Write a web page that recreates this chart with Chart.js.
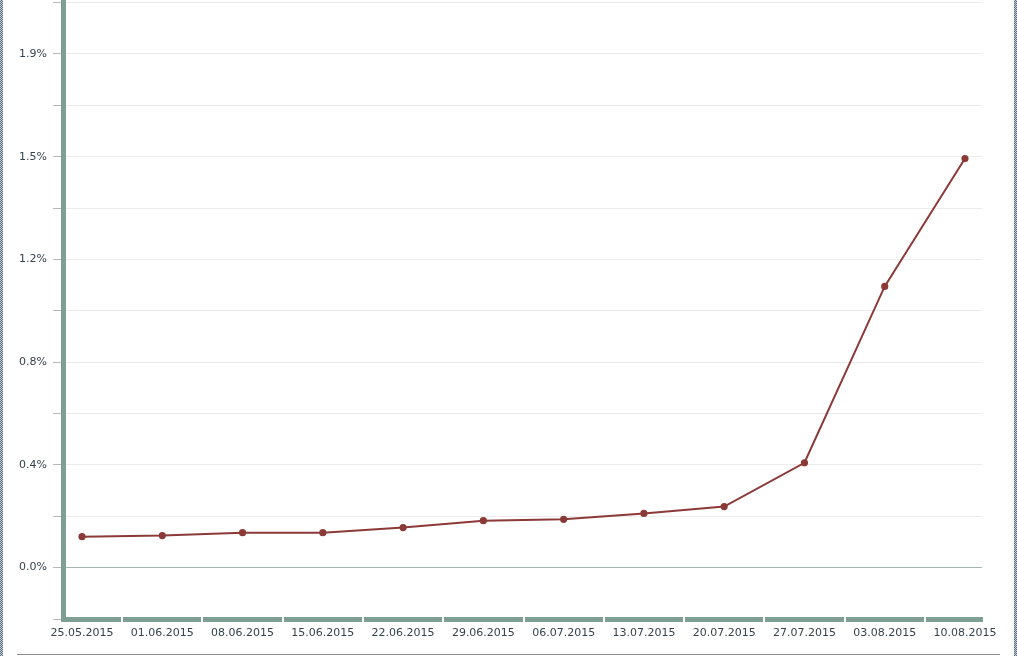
<!DOCTYPE html>
<html>
<head>
<meta charset="utf-8">
<script src="https://cdn.jsdelivr.net/npm/chart.js@4/dist/chart.umd.min.js"></script>
<style>
    html, body { margin: 0; padding: 0; background: #fff; overflow: hidden; }
    #wrap { position: relative; width: 1017px; height: 656px; overflow: hidden; }
    #chart { position: absolute; left: 0; top: -2px; }
    .edge { position: absolute; top: 0; width: 3px; height: 656px;
            background: repeating-conic-gradient(#5b6f85 0 25%, #c3ccd6 0 50%) 0 0 / 2px 2px; }
    #bottom-rule { position: absolute; left: 17px; top: 654px; width: 983px; height: 1px; background: #8a8a8a; }
</style>
</head>
<body>
<div id="wrap">
    <canvas id="chart" width="1017" height="658"></canvas>
    <div class="edge" style="left:0"></div>
    <div class="edge" style="left:1014px"></div>
    <div id="bottom-rule"></div>
</div>
<script>
// weekly dates and share values (%)
const weeks = ['25.05.2015', '01.06.2015', '08.06.2015', '15.06.2015', '22.06.2015', '29.06.2015',
               '06.07.2015', '13.07.2015', '20.07.2015', '27.07.2015', '03.08.2015', '10.08.2015'];
const shareValues = [0.116, 0.120, 0.131, 0.131, 0.150, 0.176, 0.181, 0.203, 0.229, 0.393, 1.054, 1.533];

// y axis: a gridline every half label step, label on every other line
const yLabelStep = 0.385;
const yTickLabels = ['0.0%', '0.4%', '0.8%', '1.2%', '1.5%', '1.9%'];

const axisGreen = '#7f9f94';
const lineRed   = '#8b3a38';
const textColor = '#36434e';

// white notches in the thick bottom axis, between the weeks
const axisNotches = {
    id: 'axisNotches',
    afterDraw(chart) {
        const x = chart.scales.x;
        const ctx = chart.ctx;
        ctx.save();
        ctx.fillStyle = '#fff';
        for (let i = 0; i < weeks.length - 1; i++) {
            const px = Math.round(x.getPixelForValue(i + 0.5));
            ctx.fillRect(px - 1, x.top - 4, 2, 8);
        }
        ctx.restore();
    }
};

new Chart(document.getElementById('chart'), {
    type: 'line',
    data: {
        datasets: [{
            data: shareValues.map((v, i) => ({ x: i, y: v })),
            borderColor: lineRed,
            backgroundColor: lineRed,
            borderWidth: 2,
            pointRadius: 2.6,
            pointHoverRadius: 2.6,
            tension: 0
        }]
    },
    options: {
        responsive: false,
        animation: false,
        layout: { padding: { top: 0, right: 35, bottom: 0, left: 0 } },
        plugins: { legend: { display: false }, tooltip: { enabled: false } },
        scales: {
            x: {
                type: 'linear',
                min: -0.237,
                max: 11.212,
                afterBuildTicks: s => { s.ticks = weeks.map((_, i) => ({ value: i })); },
                afterFit: s => { s.height = 37; s.paddingLeft = 0; s.paddingRight = 0; },
                grid: { display: false },
                border: { display: true, color: axisGreen, width: 5 },
                ticks: {
                    autoSkip: false,
                    maxRotation: 0,
                    padding: 0,
                    color: textColor,
                    font: { family: 'DejaVu Sans', size: 11 },
                    callback: v => weeks[v]
                }
            },
            y: {
                min: -yLabelStep / 2,
                max: yLabelStep / 2 * 11,
                afterBuildTicks: s => {
                    const t = [];
                    for (let k = -1; k <= 11; k++) t.push({ value: k * yLabelStep / 2 });
                    s.ticks = t;
                },
                afterFit: s => { s.width = 63; s.paddingTop = 0; s.paddingBottom = 0; },
                grid: {
                    color: c => (c.tick && c.tick.value === 0) ? '#a3b8b0' : '#ececec',
                    tickColor: '#b8b8b8',
                    tickLength: 10,
                    lineWidth: 1
                },
                border: { display: true, color: axisGreen, width: 5 },
                ticks: {
                    padding: 6,
                    color: textColor,
                    font: { family: 'DejaVu Sans', size: 11 },
                    callback: (v, i) => {
                        const k = i - 1;
                        return (k >= 0 && k % 2 === 0) ? yTickLabels[k / 2] : '';
                    }
                }
            }
        }
    },
    plugins: [axisNotches]
});
</script>
</body>
</html>
